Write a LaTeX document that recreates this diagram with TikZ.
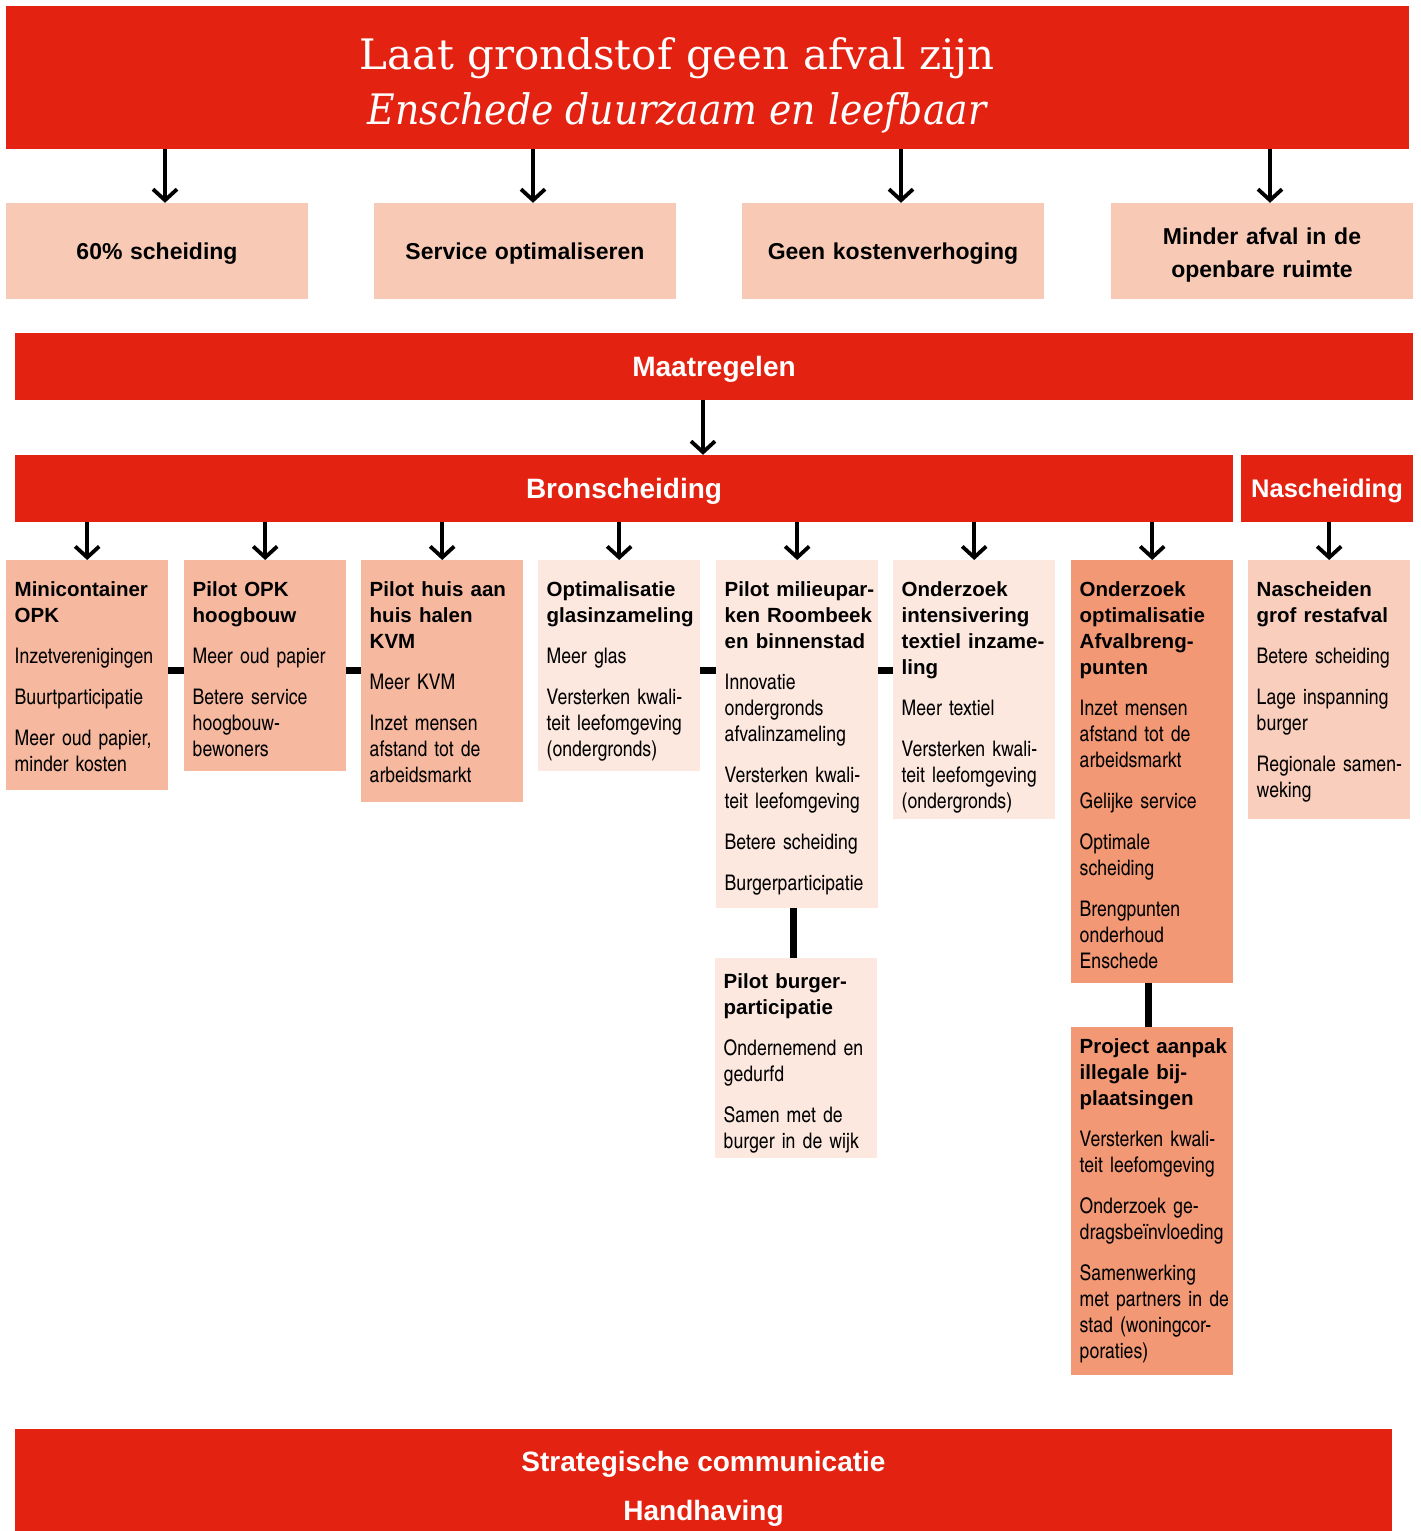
\documentclass[tikz,border=0pt]{standalone}
\usepackage{fontspec}
\usepackage[HTML]{xcolor}
\usepackage{tikz}
\usetikzlibrary{positioning, arrows.meta}

\setmainfont{Liberation Sans}
\newfontfamily\cnfont{texgyreheroscn-regular.otf}
\newfontfamily\titlefont{DejaVuSerif}[Extension=.ttf]
\newfontfamily\subtitlefont{DejaVuSerifCondensed-Italic}[Extension=.ttf]

\definecolor{ered}{HTML}{E32211}
\definecolor{cGoal}{HTML}{F8CAB6}
\definecolor{cMid}{HTML}{F6B9A0}
\definecolor{cLight}{HTML}{FCE8DF}
\definecolor{cDark}{HTML}{F29874}
\definecolor{cNa}{HTML}{F9CEBC}

\newcommand{\hd}{\normalfont\bfseries\fontsize{20.5}{26}\selectfont}
\newcommand{\bd}{\normalfont\cnfont\fontsize{21.5}{26}\selectfont}

\tikzset{
  bar/.style={fill=ered, text=white, inner sep=0pt, font=\bfseries\fontsize{28}{34}\selectfont,
    text height=20pt, text depth=0pt},
  goal/.style={fill=cGoal, inner sep=0pt, minimum width=302pt, minimum height=96pt,
    text width=290pt, align=center, font=\bfseries\fontsize{23}{33}\selectfont,
    text height=16.5pt, text depth=0pt},
  cell/.style 2 args={anchor=north west, inner sep=0pt, text width=162pt,
    text height=#1, text depth=#2, font=\cnfont\fontsize{21.5}{26}\selectfont,
    execute at begin node={\raggedright\leftskip=8.5pt\rightskip=-20pt plus 1fil}},
  arr/.style={-{Straight Barb[length=11pt, width=24pt]}, line width=3.8pt},
  link/.style={line width=7pt}
}

\begin{document}
\begin{tikzpicture}[x=1pt, y=-1pt]
\useasboundingbox (0,0) rectangle (1421,1531);

% nodes
\node[fill=ered, minimum width=1403pt, minimum height=143pt, inner sep=0pt] (title) at (707.5,77.5) {};
\node[anchor=base, text=white, font=\titlefont\fontsize{42}{55}\selectfont] (titleA) at (677,69) {Laat grondstof geen afval zijn};
\node[anchor=base, text=white, font=\subtitlefont\fontsize{42}{55}\selectfont] (titleB) at (677,124) {Enschede duurzaam en leefbaar};

\node[goal] (g1) at (157,251) {60\% scheiding};
\node[goal] (g2) at (525,251) {Service optimaliseren};
\node[goal] (g3) at (893,251) {Geen kostenverhoging};
\node[goal, text depth=30pt] (g4) at (1262,251) {Minder afval in de\\openbare ruimte};

\node[bar, minimum width=1398pt, minimum height=67pt] (maat) at (714,366.5) {Maatregelen};
\node[bar, minimum width=1218pt, minimum height=67pt] (bron) at (624,488.5) {Bronscheiding};
\node[bar, minimum width=172pt, minimum height=67pt, font=\bfseries\fontsize{25.5}{30}\selectfont,
  text height=18pt] (nasch) at (1327,488.5) {Nascheiding};

\node[cell={36pt}{194pt}, fill=cMid] (c1) at (6,560)
  {\hd Minicontainer\\OPK\\[15pt]\bd Inzetverenigingen\\[15pt]Buurtparticipatie\\[15pt]Meer oud papier,\\minder kosten};
\node[cell={36pt}{175pt}, fill=cMid] (c2) at (184,560)
  {\hd Pilot OPK\\hoogbouw\\[15pt]\bd Meer oud papier\\[15pt]Betere service\\hoogbouw-\\bewoners};
\node[cell={36pt}{206pt}, fill=cMid] (c3) at (361,560)
  {\hd Pilot huis aan\\huis halen\\KVM\\[15pt]\bd Meer KVM\\[15pt]Inzet mensen\\afstand tot de\\arbeidsmarkt};
\node[cell={36pt}{175pt}, fill=cLight] (c4) at (538,560)
  {\hd Optimalisatie\\glasinzameling\\[15pt]\bd Meer glas\\[15pt]Versterken kwali-\\teit leefomgeving\\(ondergronds)};
\node[cell={36pt}{312pt}, fill=cLight] (c5) at (716,560)
  {\hd Pilot milieupar-\\ken Roombeek\\en binnenstad\\[15pt]\bd Innovatie\\ondergronds\\afvalinzameling\\[15pt]Versterken kwali-\\teit leefomgeving\\[15pt]Betere scheiding\\[15pt]Burgerparticipatie};
\node[cell={36pt}{223pt}, fill=cLight] (c6) at (893,560)
  {\hd Onderzoek\\intensivering\\textiel inzame-\\ling\\[15pt]\bd Meer textiel\\[15pt]Versterken kwali-\\teit leefomgeving\\(ondergronds)};
\node[cell={36pt}{387pt}, fill=cDark] (c7) at (1071,560)
  {\hd Onderzoek\\optimalisatie\\Afvalbreng-\\punten\\[15pt]\bd Inzet mensen\\afstand tot de\\arbeidsmarkt\\[15pt]Gelijke service\\[15pt]Optimale\\scheiding\\[15pt]Brengpunten\\onderhoud\\Enschede};
\node[cell={36pt}{223pt}, fill=cNa] (c8) at (1248,560)
  {\hd Nascheiden\\grof restafval\\[15pt]\bd Betere scheiding\\[15pt]Lage inspanning\\burger\\[15pt]Regionale samen-\\weking};

\node[cell={30pt}{170pt}, fill=cLight] (c5b) at (715,958)
  {\hd Pilot burger-\\participatie\\[15pt]\bd Ondernemend en\\gedurfd\\[15pt]Samen met de\\burger in de wijk};
\node[cell={26pt}{322pt}, fill=cDark] (c7b) at (1071,1027)
  {\hd Project aanpak\\illegale bij-\\plaatsingen\\[15pt]\bd Versterken kwali-\\teit leefomgeving\\[15pt]Onderzoek ge-\\dragsbeïnvloeding\\[15pt]Samenwerking\\met partners in de\\stad (woningcor-\\poraties)};

\node[fill=ered, minimum width=1377pt, minimum height=102pt, inner sep=0pt] (bottom) at (703.5,1480) {};
\node[anchor=base, text=white, font=\bfseries\fontsize{28}{34}\selectfont] (comm) at (703.5,1471) {Strategische communicatie};
\node[anchor=base, text=white, font=\bfseries\fontsize{28}{34}\selectfont] (handh) at (703.5,1520) {Handhaving};

% arrows
\foreach \g in {g1,g2,g3,g4}
  \draw[arr] ([xshift=8pt]\g.north |- title.south) -- ([xshift=8pt]\g.north);
\draw[arr] ([xshift=-11pt]maat.south) -- ([xshift=-11pt]maat.south |- bron.north);
\foreach \c in {c1,c2,c3,c4,c5,c6,c7}
  \draw[arr] (bron.south -| \c.north) -- (\c.north);
\draw[arr] (nasch.south -| c8.north) -- (c8.north);

% links
\draw[link] ([yshift=-110pt]c1.north east) -- ([yshift=-110pt]c2.north west);
\draw[link] ([yshift=-110pt]c2.north east) -- ([yshift=-110pt]c3.north west);
\draw[link] ([yshift=-110pt]c4.north east) -- ([yshift=-110pt]c5.north west);
\draw[link] ([yshift=-110pt]c5.north east) -- ([yshift=-110pt]c6.north west);
\draw[link] ([xshift=-4pt]c5.south) -- ([xshift=-4pt]c5.south |- c5b.north);
\draw[link] ([xshift=-4pt]c7.south) -- ([xshift=-4pt]c7.south |- c7b.north);
\end{tikzpicture}
\end{document}
